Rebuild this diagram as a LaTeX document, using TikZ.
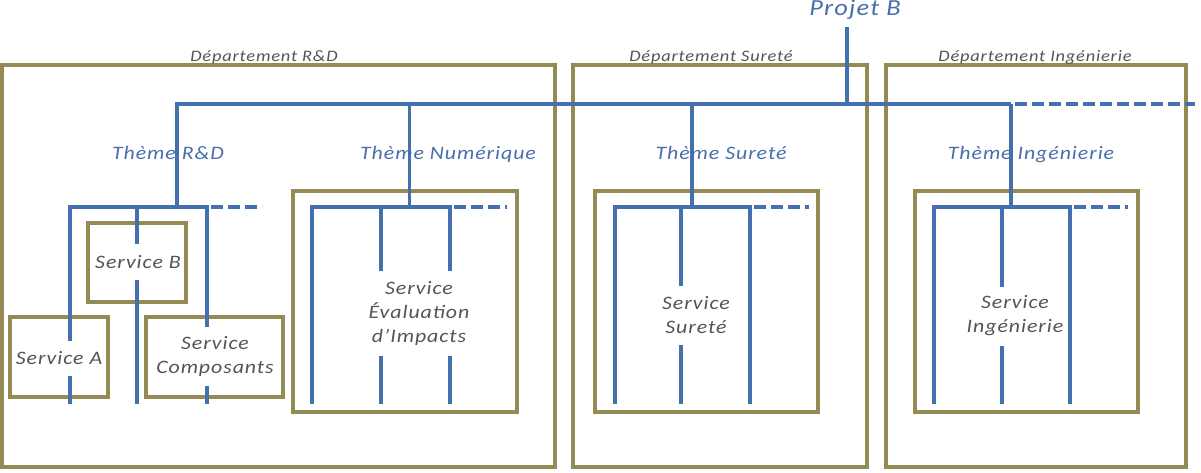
\documentclass[tikz,border=0pt]{standalone}
\usepackage{fontspec}
\setmainfont{Carlito}
\newfontfamily\calib{Carlito}[LetterSpace=5, FakeStretch=1.15]
\usepackage{tikz}
\usetikzlibrary{fit,calc}
\definecolor{cadreolive}{HTML}{948A54}
\definecolor{bleutrait}{HTML}{4470AE}
\definecolor{bleutexte}{HTML}{4A6FAA}
\definecolor{gristexte}{HTML}{555555}
\tikzset{
  cadre/.style={draw=cadreolive, line width=3.5pt, inner sep=0pt},
  trait/.style={draw=bleutrait, line width=3.5pt},
  traitepais/.style={trait, line width=4.5pt},
  suite/.style={trait, dash pattern=on 12pt off 5pt},
  nomdept/.style={font=\calib\itshape\fontsize{16}{19}\selectfont, text=gristexte, anchor=base, inner sep=0pt},
  nomtheme/.style={font=\calib\itshape\fontsize{19}{22}\selectfont, text=bleutexte, anchor=base, inner sep=0pt},
  nomservice/.style={font=\calib\itshape\fontsize{19}{24}\selectfont, text=gristexte, fill=white, align=center, inner xsep=1pt, inner ysep=0pt},
}

\begin{document}
\begin{tikzpicture}[x=1pt,y=-1pt]
  \path[use as bounding box, fill=white] (0,0) rectangle (1201,472);
  % departements et services
  \node[cadre, fit={(2,65) (555,467)}] (deptrd) {};
  \node[cadre, fit={(573,65) (867,467)}] (deptsur) {};
  \node[cadre, fit={(886,65) (1186,467)}] (depting) {};
  \node[cadre, fit={(293,191) (517,412)}] (cadrenum) {};
  \node[cadre, fit={(595,191) (818,412)}] (cadresur) {};
  \node[cadre, fit={(915,191) (1138,412)}] (cadreing) {};
  \node[cadre, fit={(88,223) (186,302)}] (cadreb) {};
  \node[cadre, fit={(10,317) (108,397)}] (cadrea) {};
  \node[cadre, fit={(146,317) (283,397)}] (cadrec) {};

  \node[nomdept] (lrd) at (264,61) {Département R\&D};
  \node[nomdept] (lsur) at (711,61) {Département Sureté};
  \node[nomdept] (ling) at (1035,61) {Département Ingénierie};
  \node[nomtheme, font=\calib\itshape\fontsize{23}{26}\selectfont] (projet) at (855,15) {Projet B};
  \node[nomtheme] (trd) at (168,159) {Thème R\&D};
  \node[nomtheme] (tnum) at (448,159) {Thème Numérique};
  \node[nomtheme] (tsur) at (721,159) {Thème Sureté};
  \node[nomtheme] (ting) at (1031,159) {Thème Ingénierie};

  \foreach \g/\xa/\xb/\xc/\xd in {rd/70/137/207/262, num/312/381/450/507, sur/615/681/750/809, ing/934/1002/1070/1128}{
    \coordinate (\g-h) at (\xa,207);
    \coordinate (\g-a) at (\xa,404);
    \coordinate (\g-b) at (\xb,404);
    \coordinate (\g-c) at (\xc,404);
    \coordinate (\g-d) at ({\xc+4},207);
    \coordinate (\g-fin) at (\xd,207);
    \draw[trait] (\g-a) |- (\g-c |- \g-h) -- (\g-c);
    \draw[trait] (\g-b |- \g-h) -- (\g-b);
    \draw[suite] (\g-d) -- (\g-fin);
  }

  \coordinate (racine) at (847,27);
  \coordinate (jpb) at (847,104);
  \coordinate (jrd) at (177,104);
  \coordinate (jnum) at (409.5,104);
  \coordinate (jsur) at (692,104);
  \coordinate (jing) at (1011,104);
  \coordinate (jsuite) at (1015,104);
  \coordinate (finaxe) at (1195,104);
  \draw[traitepais] (racine) -- (jpb);
  \draw[trait] (jrd |- rd-h) -- (jrd) -- (jing);
  \draw[suite] (jsuite) -- (finaxe);
  \draw[trait] (jnum) -- (jnum |- num-h);
  \draw[traitepais] (jsur) -- (jsur |- sur-h);
  \draw[trait] (jing) -- (jing |- ing-h);

  \node[nomservice, minimum height=36pt] (servb) at (138,262) {Service B};
  \node[nomservice, minimum height=35pt] (serva) at (59,358) {Service A};
  \node[nomservice, minimum height=59pt] (servc) at (215,356) {Service\\Composants};
  \node[nomservice, minimum height=85pt] (servnum) at (419,313) {Service\\Évaluation\\d’Impacts};
  \node[nomservice, minimum height=59pt] (servsur) at (696,315) {Service\\Sureté};
  \node[nomservice, minimum height=59pt] (serving) at (1015,316) {Service\\Ingénierie};
\end{tikzpicture}
\end{document}
